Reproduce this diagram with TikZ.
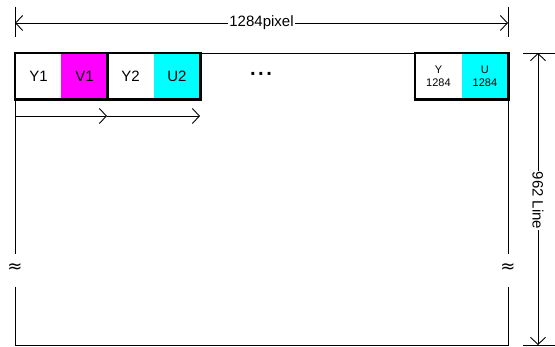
\documentclass[tikz,border=0pt]{standalone}
\usepackage{fontspec}
\setmainfont{Liberation Sans}
\newfontfamily\symfont{DejaVu Sans}
\usetikzlibrary{arrows.meta}
\definecolor{mag}{RGB}{255,0,255}
\definecolor{cya}{RGB}{0,255,255}
\begin{document}
\begin{tikzpicture}[x=1pt,y=-1pt,
  cell/.style={draw=none, minimum width=46.5pt, minimum height=46pt, inner sep=0pt, anchor=north west, font=\fontsize{15}{17}\selectfont},
  smallcell/.style={cell, font=\fontsize{11}{13}\selectfont, align=center},
  thickline/.style={line width=2.4pt},
  thinline/.style={line width=0.9pt},
  barb/.style={-{Straight Barb[length=7pt,width=15pt,line width=0.9pt]}},
  dbarb/.style={{Straight Barb[length=7pt,width=15pt,line width=0.9pt]}-{Straight Barb[length=7pt,width=15pt,line width=0.9pt]}},
  lbl/.style={fill=white, inner sep=1pt, font=\fontsize{15}{17}\selectfont},
  wavy/.style={font=\symfont\fontsize{18}{18}\selectfont, inner sep=0pt}
]
\useasboundingbox (0,0) rectangle (555,347);
% frame
\draw[thinline] (15,53) -- (508,53);
\draw[thinline] (15,99) -- (15,254);
\draw[thinline] (15,287) -- (15,345) -- (508,345) -- (508,287);
\draw[thinline] (508,254) -- (508,99);
\node[wavy] (wl) at (15,268) {≈};
\node[wavy] (wr) at (508,268) {≈};
% cells
\node[cell] (y1) at (15,53) {Y1};
\node[cell, fill=mag] (v1) at (61,53) {V1};
\node[cell] (y2) at (107,53) {Y2};
\node[cell, fill=cya] (u2) at (153.5,53) {U2};
\node[smallcell] (yn) at (415,53) {Y\\1284};
\node[smallcell, fill=cya] (un) at (461.5,53) {U\\1284};
\draw[thickline] (y1.north west) rectangle (v1.south east);
\draw[thickline] (y2.north west) rectangle (u2.south east);
\draw[thickline] (yn.north west) rectangle (un.south east);
\node[font=\symfont\bfseries\fontsize{16}{17}\selectfont, inner sep=0pt] (dots) at (261,76) {·\kern2pt·\kern2pt·};
% arrows below
\coordinate (a0) at (15,116);
\coordinate (a1) at (107,116);
\coordinate (a2) at (200,116);
\draw[thinline, barb] (a0) -- (a1);
\draw[thinline, barb] (a1) -- (a2);
% top dimension
\coordinate (tl) at (15,23);
\coordinate (tr) at (508,23);
\draw[thinline] (15,7) -- (15,37);
\draw[thinline] (508,7) -- (508,37);
\draw[thinline, dbarb] (tl) -- (tr) node[pos=0.5, lbl] (wlabel) {1284pixel};
% right dimension
\coordinate (rt) at (538,53);
\coordinate (rb) at (538,345);
\draw[thinline] (523,53) -- (555,53);
\draw[thinline] (523,345) -- (555,345);
\draw[thinline, dbarb] (rt) -- (rb) node[pos=0.505, lbl, rotate=-90] (hlabel) {962 Line};
\end{tikzpicture}
\end{document}
